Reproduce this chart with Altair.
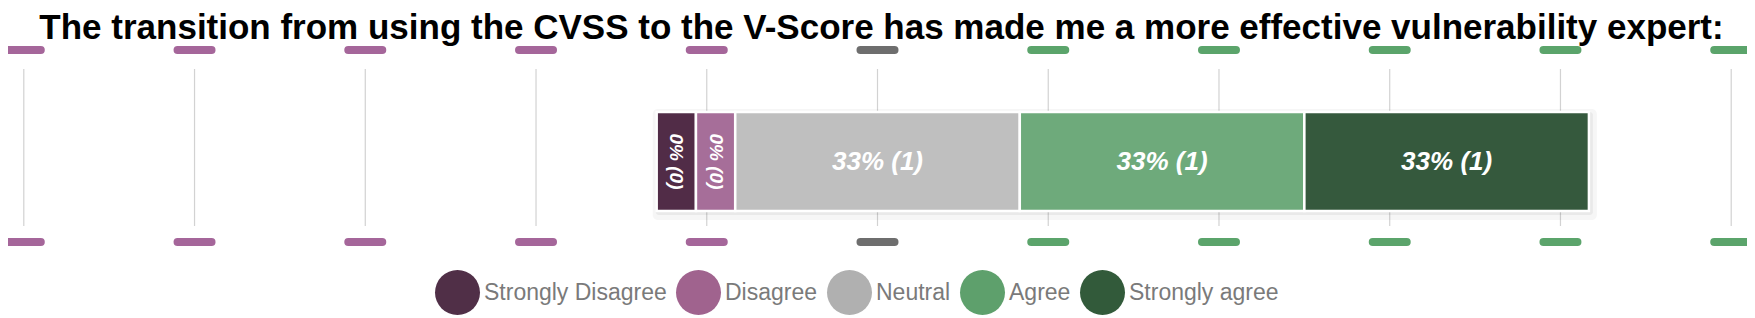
import altair as alt
import pandas as pd

# ---------------- data ----------------
TITLE = "The transition from using the CVSS to the V-Score has made me a more effective vulnerability expert:"
CATEGORIES = ["Strongly Disagree", "Disagree", "Neutral", "Agree", "Strongly agree"]
COUNTS = [0, 0, 1, 1, 1]
TICKS = [-100, -80, -60, -40, -20, 0, 20, 40, 60, 80, 100]

# ---------------- styles ----------------
BAR_COLORS = ["#512C47", "#A66E99", "#BFBFBF", "#6EAA7B", "#35593D"]
LEGEND_COLORS = ["#502F47", "#A0638E", "#B0B0B0", "#5EA06C", "#325A3A"]
PILL_COLORS = ["#A5669A", "#6E6E6E", "#5BA46B"]
MIN_SEG = 4.6          # displayed width (percent units) of an empty segment
FONT = "Liberation Sans"
W, H = 1739, 310
BAR_TOP, BAR_BOT = 104, 203

# ---------------- derived table ----------------
total = sum(COUNTS)
pct = [c / total * 100 for c in COUNTS]
wid = [max(p, MIN_SEG) for p in pct]
starts = [0.0] * 5
ends = [0.0] * 5
starts[2] = -wid[2] / 2
ends[2] = wid[2] / 2
cur = starts[2]
for i in (1, 0):
    ends[i] = cur
    starts[i] = cur - wid[i]
    cur = starts[i]
cur = ends[2]
for i in (3, 4):
    starts[i] = cur
    ends[i] = cur + wid[i]
    cur = ends[i]

bars = pd.DataFrame({
    "category": CATEGORIES,
    "count": COUNTS,
    "pct": pct,
    "start": starts,
    "end": ends,
})
bars["mid"] = (bars["start"] + bars["end"]) / 2
bars["label"] = [f"{round(p)}% ({c})" for p, c in zip(pct, COUNTS)]
bars["rot"] = bars["pct"] < 10

ticks = pd.DataFrame({"tick": TICKS})
ticks["side"] = ["neg" if t < 0 else ("zero" if t == 0 else "pos") for t in TICKS]

shadow = pd.DataFrame({"s": [min(starts)], "e": [max(ends)]})
title_df = pd.DataFrame({"t": [TITLE]})

xscale = alt.Scale(domain=[-101.85, 101.85], nice=False, zero=False)
X = lambda f: alt.X(f, scale=xscale, axis=None)
pill_color = alt.Color("side:N", scale=alt.Scale(domain=["neg", "zero", "pos"], range=PILL_COLORS), legend=None)

grid = alt.Chart(ticks).mark_rule(color="#d2d2d2", strokeWidth=1.2).encode(
    x=X("tick:Q"), y=alt.value(61), y2=alt.value(218)
)

def pills(yv):
    return alt.Chart(ticks).mark_rule(strokeWidth=8, strokeCap="round", xOffset=-17, x2Offset=17).encode(
        x=X("tick:Q"), x2=alt.X2("tick"), y=alt.value(yv), color=pill_color
    )

shadow_outer = alt.Chart(shadow).mark_rect(color="black", opacity=0.035, cornerRadius=5,
                                           xOffset=-4, x2Offset=8).encode(
    x=X("s:Q"), x2=alt.X2("e"), y=alt.value(BAR_TOP - 3), y2=alt.value(BAR_BOT + 9)
)
shadow_inner = alt.Chart(shadow).mark_rect(color="black", opacity=0.05, cornerRadius=3,
                                           xOffset=-1, x2Offset=4).encode(
    x=X("s:Q"), x2=alt.X2("e"), y=alt.value(BAR_TOP), y2=alt.value(BAR_BOT + 4)
)

bar = alt.Chart(bars).mark_rect(stroke="white", strokeWidth=2.5).encode(
    x=X("start:Q"), x2=alt.X2("end"),
    y=alt.value(BAR_TOP), y2=alt.value(BAR_BOT),
    color=alt.Color("category:N", scale=alt.Scale(domain=CATEGORIES, range=BAR_COLORS), legend=None),
)

ymid = (BAR_TOP + BAR_BOT) / 2
txt = alt.Chart(bars).transform_filter("!datum.rot").mark_text(
    font=FONT, fontSize=26, fontWeight="bold", fontStyle="italic", color="white",
    align="center", baseline="middle"
).encode(x=X("mid:Q"), y=alt.value(ymid), text="label:N")

txt_rot = alt.Chart(bars).transform_filter("datum.rot").mark_text(
    font=FONT, fontSize=19, fontWeight="bold", fontStyle="italic", color="white",
    align="center", baseline="middle", angle=90
).encode(x=X("mid:Q"), y=alt.value(ymid), text="label:N")

title = alt.Chart(title_df).mark_text(
    font=FONT, fontSize=35, fontWeight="bold", color="black", align="center", baseline="alphabetic"
).encode(x=alt.value(W / 2 + 4), y=alt.value(31), text="t:N")

legend_layer = alt.Chart(bars).mark_circle(opacity=0).encode(
    x=X("start:Q"), y=alt.value(150),
    color=alt.Color(
        "category:N",
        scale=alt.Scale(domain=CATEGORIES, range=LEGEND_COLORS),
        sort=CATEGORIES,
        legend=alt.Legend(
            orient="none", legendX=427, legendY=262, direction="horizontal", title=None,
            symbolType="circle", symbolSize=2025, symbolStrokeWidth=0, symbolOpacity=1,
            labelFont=FONT, labelFontSize=23, labelColor="#7a7a7a", labelOffset=4,
            columnPadding=9, padding=0, labelLimit=400,
        ),
    ),
)

chart = alt.layer(
    grid, pills(42), pills(234), shadow_outer, shadow_inner, bar, txt, txt_rot, title, legend_layer
).resolve_scale(color="independent").properties(
    width=W, height=H, autosize=alt.AutoSizeParams(type="none"), padding=0, background="white"
).configure_view(stroke=None, strokeWidth=0)

chart.save("out.html", embed_options={"renderer": "svg", "actions": False})
